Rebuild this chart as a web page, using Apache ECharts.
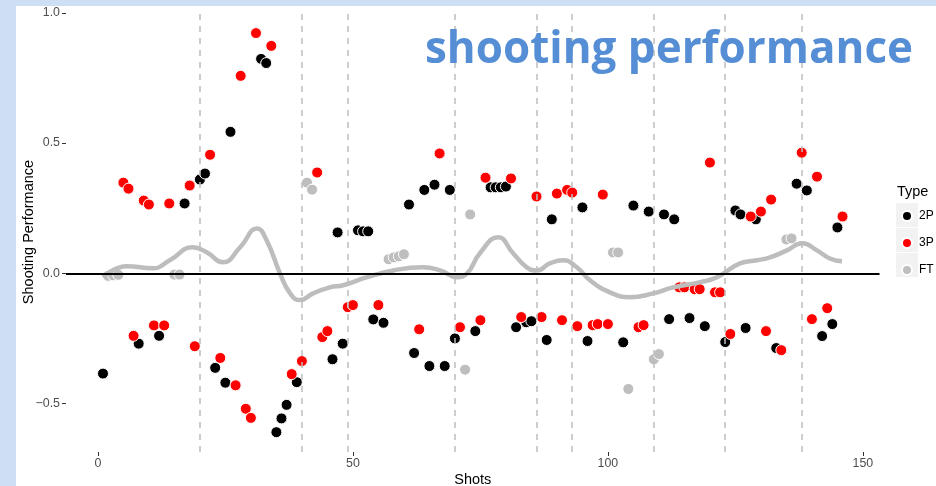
<!DOCTYPE html>
<html><head><meta charset="utf-8">
<script src="https://cdn.jsdelivr.net/npm/echarts@6/dist/echarts.min.js"></script>
<style>html,body{margin:0;padding:0;background:#cedff3}#c{width:936px;height:486px}</style>
</head><body><div id="c"></div>
<script>
// ---- data ----
const shots2P = [1,8,12,17,20,21,23,25,26,32,33,35,36,37,39,46,47,48,51,52,53,54,56,61,62,64,65,66,68,69,70,74,77,78,79,80,82,84,85,88,89,95,96,103,105,108,111,112,113,116,119,123,125,126,127,129,133,137,139,142,144,145];
const values2P = [-0.385,-0.27,-0.24,0.268,0.36,0.383,-0.363,-0.42,0.543,0.823,0.807,-0.61,-0.557,-0.505,-0.418,-0.33,0.157,-0.27,0.165,0.161,0.161,-0.177,-0.19,0.264,-0.306,0.32,-0.356,0.34,-0.356,0.32,-0.25,-0.222,0.33,0.33,0.33,0.333,-0.207,-0.188,-0.184,-0.256,0.207,0.253,-0.26,-0.265,0.26,0.237,0.226,-0.176,0.207,-0.172,-0.203,-0.264,0.241,0.226,-0.21,0.207,-0.287,0.344,0.318,-0.241,-0.195,0.176];
const shots3P = [5,6,7,9,10,11,13,14,18,19,22,24,27,28,29,30,31,34,38,40,43,44,45,49,50,55,63,67,71,75,76,81,83,86,87,90,91,92,93,94,97,98,99,100,106,107,114,115,117,118,120,121,122,124,128,130,131,132,134,138,140,141,143,146];
const values3P = [0.348,0.325,-0.24,0.279,0.264,-0.2,-0.2,0.268,0.337,-0.28,0.455,-0.325,-0.43,0.758,-0.52,-0.555,0.922,0.873,-0.387,-0.337,0.387,-0.245,-0.222,-0.13,-0.122,-0.122,-0.215,0.46,-0.207,-0.18,0.367,0.364,-0.168,0.295,-0.168,0.306,-0.18,0.32,0.31,-0.203,-0.199,-0.195,0.302,-0.195,-0.207,-0.199,-0.054,-0.054,-0.061,-0.061,0.425,-0.073,-0.073,-0.233,0.218,0.237,-0.222,0.283,-0.295,0.463,-0.176,0.371,-0.134,0.218];
const shotsFT = [2,3,4,15,16,41,42,57,58,59,60,72,73,101,102,104,109,110,135,136];
const valuesFT = [-0.01,-0.008,-0.006,-0.005,-0.005,0.348,0.321,0.054,0.061,0.065,0.073,-0.37,0.226,0.08,0.08,-0.444,-0.33,-0.31,0.13,0.134];
const smoothShots = [1,5.7,10.8,14.1,18.6,21.4,24.5,27.9,31.2,33.1,35.7,37.7,39.6,42.2,45.5,48.1,52.8,57.9,63.7,67.1,70.4,72.4,74.9,78.5,81.4,84.1,86.1,88.6,91.2,93.9,96.5,100.4,104.3,108.9,112.8,118.1,121.4,125.9,129.2,131.8,135.1,138.1,141,143.5,145.9];
const smoothValues = [-0.015,0.027,0.019,0.05,0.1,0.08,0.042,0.1,0.172,0.126,0,-0.077,-0.103,-0.077,-0.054,-0.046,-0.015,0.011,0.023,0.011,-0.015,0,0.077,0.138,0.077,0.023,0.011,0.038,0.05,0.023,-0.027,-0.073,-0.092,-0.077,-0.054,-0.034,-0.015,0.038,0.05,0.061,0.088,0.115,0.088,0.057,0.046];
const gameBreaks = [20,40,49,70,86,93,109,123,138];
const xTicks = [0,50,100,150];
const yTicks = [-0.5,0,0.5,1.0];
const typeNames = ['2P','3P','FT'];
const titleText = 'shooting performance';
const xTitle = 'Shots';
const yTitle = 'Shooting Performance';
const legendTitle = 'Type';

// ---- chart ----
const F = '"Liberation Sans", Arial, sans-serif';
function pts(s, v) { return s.map((x, i) => [x, v[i]]); }
const titleFont = 'bold 44px "Open Sans"';
const cv = document.createElement('canvas').getContext('2d');
cv.font = titleFont;
const tw = cv.measureText(titleText).width || 487;
const sx = 488 / tw;

const chart = echarts.init(document.getElementById('c'), null, {renderer: 'canvas'});
function scatter(name, s, v, color) {
  return {
    type: 'scatter', name: name, data: pts(s, v), symbol: 'circle', symbolSize: 11,
    itemStyle: {color: color, borderColor: '#ffffff', borderWidth: 1, opacity: 1},
    emphasis: {disabled: true}, silent: true, z: 2
  };
}
const keyRects = typeNames.map((n, i) => ({
  type: 'rect', shape: {x: 896, y: 203 + i * 25, width: 22, height: 24},
  style: {fill: '#f2f2f2'}, z: -5, silent: true
}));
chart.setOption({
  backgroundColor: '#cedff3',
  animation: false,
  grid: {left: 66, right: 56.5, top: 12, bottom: 34, containLabel: false, outerBoundsMode: 'none'},
  xAxis: {
    type: 'value', min: -6.25, max: 153.25,
    axisLine: {show: false, onZero: false}, splitLine: {show: false},
    axisTick: {show: true, length: 4, lineStyle: {color: '#333', width: 1}, customValues: xTicks},
    axisLabel: {customValues: xTicks, color: '#4d4d4d', fontSize: 12.4, fontFamily: F, margin: 6},
    name: xTitle, nameLocation: 'middle', nameGap: 20, nameMoveOverlap: false,
    nameTextStyle: {color: '#000', fontSize: 14.5, fontFamily: F}
  },
  yAxis: {
    type: 'value', min: -0.686, max: 1.003,
    axisLine: {show: false, onZero: false}, splitLine: {show: false},
    axisTick: {show: true, length: 4, lineStyle: {color: '#333', width: 1}, customValues: yTicks},
    axisLabel: {customValues: yTicks, color: '#4d4d4d', fontSize: 12.4, fontFamily: F, margin: 6,
      formatter: v => v.toFixed(1).replace('-', '\u2212')},
    name: yTitle, nameLocation: 'middle', nameGap: 30, nameMoveOverlap: false,
    nameTextStyle: {color: '#000', fontSize: 14.5, fontFamily: F}
  },
  legend: {
    data: typeNames, orient: 'vertical', left: 901, top: 210, padding: 0,
    itemWidth: 14, itemHeight: 10, itemGap: 15, icon: 'circle', selectedMode: false,
    textStyle: {color: '#000', fontSize: 12, fontFamily: F}
  },
  graphic: {elements: [
    {type: 'rect', shape: {x: 16, y: 6, width: 920, height: 480}, style: {fill: '#ffffff'}, z: -10, silent: true},
    ...keyRects,
    {type: 'text', x: 897, y: 192, style: {text: legendTitle, fill: '#000', font: '14.5px ' + F, verticalAlign: 'middle'}, z: 10, silent: true},
    {type: 'text', x: 425, y: 50, scaleX: sx, style: {text: titleText, fill: '#558ed5', font: titleFont, verticalAlign: 'middle'}, z: 100, silent: true}
  ]},
  series: [
    scatter('2P', shots2P, values2P, '#000000'),
    scatter('3P', shots3P, values3P, '#ff0000'),
    scatter('FT', shotsFT, valuesFT, '#bebebe'),
    {
      type: 'line', name: 'smooth', data: pts(smoothShots, smoothValues), smooth: 0.5,
      symbol: 'none', showSymbol: false, silent: true, z: 3,
      lineStyle: {color: '#bdbdbd', width: 4.5}, emphasis: {disabled: true}
    },
    {
      type: 'scatter', name: 'refs', data: [], silent: true, z: 4,
      markLine: {
        symbol: 'none', silent: true, label: {show: false}, animation: false,
        emphasis: {disabled: true},
        data: gameBreaks.map(x => ({xAxis: x, lineStyle: {type: [6, 6], color: '#bdbdbd', width: 1.5}}))
          .concat([{yAxis: 0, lineStyle: {type: 'solid', color: '#000', width: 2}}])
      }
    }
  ]
});
</script></body></html>
